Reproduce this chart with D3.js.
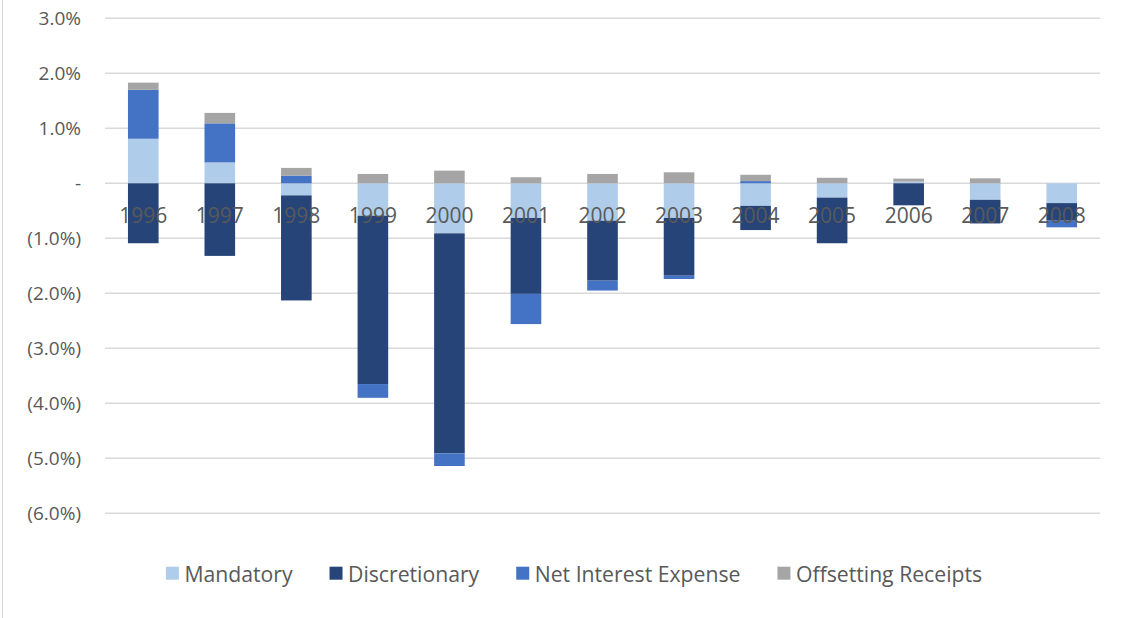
<!DOCTYPE html>
<html>
<head>
<meta charset="utf-8">
<script src="https://cdn.jsdelivr.net/npm/d3@7"></script>
<style>
  html, body { margin: 0; padding: 0; background: #fff; }
  svg { display: block; }
  text { font-family: "Open Sans", "Noto Sans", sans-serif; fill: #595959; }
</style>
</head>
<body>
<svg id="chart" width="1129" height="618"></svg>
<script>
// ---- data ----
const years = ["1996","1997","1998","1999","2000","2001","2002","2003","2004","2005","2006","2007","2008"];
const seriesNames = ["Mandatory","Discretionary","Net Interest Expense","Offsetting Receipts"];
const mandatory     = [0.81, 0.38, -0.22, -0.59, -0.91, -0.63, -0.68, -0.63, -0.41, -0.26, 0.03, -0.30, -0.36];
const discretionary = [-1.09, -1.32, -1.91, -3.06, -4.00, -1.38, -1.09, -1.05, -0.44, -0.83, -0.40, -0.43, -0.32];
const netInterest   = [0.89, 0.71, 0.14, -0.25, -0.23, -0.55, -0.18, -0.06, 0.04, 0.00, 0.00, 0.00, -0.12];
const offsetting    = [0.13, 0.19, 0.14, 0.17, 0.23, 0.11, 0.17, 0.20, 0.115, 0.10, 0.055, 0.09, 0.00];
const tickValues = [3, 2, 1, 0, -1, -2, -3, -4, -5, -6];
const tickLabels = ["3.0%","2.0%","1.0%","-","(1.0%)","(2.0%)","(3.0%)","(4.0%)","(5.0%)","(6.0%)"];
const colors = ["#AFCCEA", "#264478", "#4472C4", "#A5A5A5"];

// ---- build table ----
const table = years.map((y, i) => ({
  year: y,
  "Mandatory": mandatory[i],
  "Discretionary": discretionary[i],
  "Net Interest Expense": netInterest[i],
  "Offsetting Receipts": offsetting[i]
}));

const svg = d3.select("#chart");

// chart border (left edge)
svg.append("line").attr("x1", 2.5).attr("x2", 2.5).attr("y1", 0).attr("y2", 618)
  .attr("stroke", "#D9D9D9").attr("stroke-width", 1);

const x = d3.scaleBand().domain(years).range([105, 1100]).paddingInner(0.6).paddingOuter(0.3);
const y = d3.scaleLinear().domain([-6, 3]).range([513.3, 18.3]);

// gridlines
svg.append("g").selectAll("line").data(tickValues).join("line")
  .attr("x1", 105).attr("x2", 1100)
  .attr("y1", d => y(d)).attr("y2", d => y(d))
  .attr("stroke", "#D9D9D9").attr("stroke-width", 1.5);

// stacked bars
const stack = d3.stack().keys(seriesNames).offset(d3.stackOffsetDiverging);
const stacked = stack(table);

svg.append("g").selectAll("g").data(stacked).join("g")
  .attr("fill", (d, i) => colors[i])
  .selectAll("rect").data(d => d).join("rect")
  .attr("x", d => x(d.data.year))
  .attr("width", x.bandwidth())
  .attr("y", d => y(Math.max(d[0], d[1])))
  .attr("height", d => Math.abs(y(d[0]) - y(d[1])));

// y axis labels
const yAxis = d3.axisLeft(y).tickValues(tickValues)
  .tickFormat((d, i) => tickLabels[i]).tickSize(0).tickPadding(0);
const yg = svg.append("g").attr("transform", "translate(81,0)").call(yAxis);
yg.select(".domain").remove();
yg.selectAll("text").attr("font-size", 19).style("fill", "#595959")
  .attr("font-family", "'Open Sans', sans-serif").attr("dy", "0.35em");

// x axis labels (at zero line)
const xAxis = d3.axisBottom(x).tickSize(0).tickPadding(0);
const xg = svg.append("g").attr("transform", `translate(0,${y(0)})`).call(xAxis);
xg.select(".domain").remove();
xg.selectAll("text").attr("font-size", 21).style("fill", "#595959")
  .attr("font-family", "'Open Sans', sans-serif").attr("y", 39.5).attr("dy", 0);

// legend
const legend = svg.append("g");
const items = legend.selectAll("g").data(seriesNames).join("g");
items.append("rect").attr("width", 13).attr("height", 13).attr("y", 566.7)
  .attr("fill", (d, i) => colors[i]);
items.append("text").text(d => d).attr("x", 18.5).attr("y", 582)
  .attr("font-size", 21.2);
const widths = [];
items.each(function() {
  const w = d3.select(this).select("text").node().getComputedTextLength();
  widths.push(18.5 + w);
});
const gap = 37;
const total = d3.sum(widths) + gap * (widths.length - 1);
let start = 574 - total / 2;
items.attr("transform", (d, i) => {
  const t = `translate(${start},0)`;
  start += widths[i] + gap;
  return t;
});
</script>
</body>
</html>
